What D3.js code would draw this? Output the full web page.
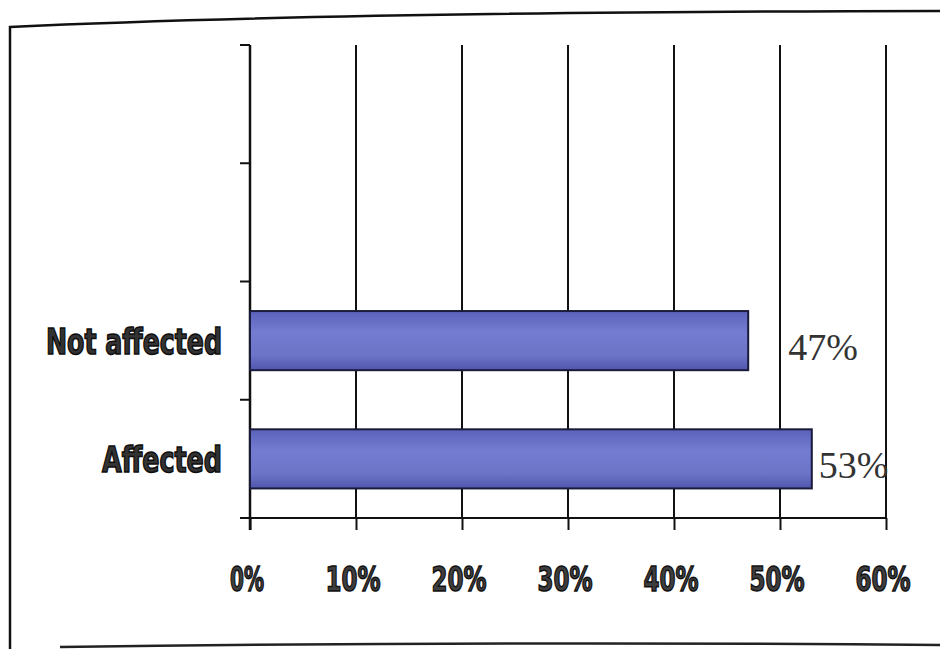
<!DOCTYPE html>
<html>
<head>
<meta charset="utf-8">
<script src="https://cdn.jsdelivr.net/npm/d3@7"></script>
<style>
  html, body { margin: 0; padding: 0; background: #fff; }
  svg { display: block; }
</style>
</head>
<body>
<svg id="chart" width="940" height="651"></svg>
<script>
// Share of respondents by status
const categories = ["Not affected", "Affected"];
const values = [47, 53];
const valueLabels = ["47%", "53%"];
const xTicks = [0, 10, 20, 30, 40, 50, 60];
const xTickLabels = ["0%", "10%", "20%", "30%", "40%", "50%", "60%"];

// Category slots from top to bottom; the two upper slots are left empty
const slots = ["slot0", "slot1", "Not affected", "Affected"];

// Horizontal nudge of each value label past the end of its bar
const labelNudge = { "Not affected": 40, "Affected": 7 };

const svg = d3.select("#chart");
const plot = { left: 250, right: 886, top: 45, bottom: 518 };

// Frame around the figure
svg.append("path")
  .attr("d", "M10,649 L10,27 Q320,12 942,11")
  .attr("fill", "none").attr("stroke", "#111").attr("stroke-width", 2.5);
svg.append("path")
  .attr("d", "M60,647 Q500,641 942,645")
  .attr("fill", "none").attr("stroke", "#222").attr("stroke-width", 2.5);

const x = d3.scaleLinear().domain([0, 60]).range([plot.left, plot.right]);
const y = d3.scaleBand().domain(slots).range([plot.top, plot.bottom]).paddingInner(0.5).paddingOuter(0.25);

// Bar gradient
const defs = svg.append("defs");
const grad = defs.append("linearGradient").attr("id", "barGrad")
  .attr("x1", 0).attr("y1", 0).attr("x2", 0).attr("y2", 1);
grad.append("stop").attr("offset", "0%").attr("stop-color", "#5a62bb");
grad.append("stop").attr("offset", "35%").attr("stop-color", "#737cd0");
grad.append("stop").attr("offset", "75%").attr("stop-color", "#6c74c8");
grad.append("stop").attr("offset", "100%").attr("stop-color", "#4f56ad");

// Vertical gridlines
svg.append("g").selectAll("line")
  .data(xTicks.slice(1))
  .join("line")
  .attr("x1", d => x(d)).attr("x2", d => x(d))
  .attr("y1", plot.top).attr("y2", plot.bottom)
  .attr("stroke", "#111").attr("stroke-width", 2);

// Bottom axis with ticks pointing down
const xAxis = d3.axisBottom(x).tickValues(xTicks).tickSize(12).tickFormat(() => "");
const gx = svg.append("g").attr("transform", `translate(0,${plot.bottom})`).call(xAxis);
gx.select(".domain").attr("d", `M${plot.left - 10},0H${plot.right}`)
  .attr("stroke", "#111").attr("stroke-width", 2);
gx.selectAll(".tick line").attr("stroke", "#111").attr("stroke-width", 2);

// Tick labels
svg.append("g").selectAll("text")
  .data(xTicks)
  .join("text")
  .attr("x", d => x(d) - 3)
  .attr("y", 591)
  .attr("text-anchor", "middle")
  .attr("font-family", "'DejaVu Sans Condensed', 'DejaVu Sans', sans-serif")
  .attr("font-weight", "bold")
  .attr("font-size", 34)
  .attr("fill", "#3e3e3e")
  .attr("stroke", "#111")
  .attr("stroke-width", 1.5)
  .attr("textLength", (d, i) => xTickLabels[i].length === 2 ? 34 : 55)
  .attr("lengthAdjust", "spacingAndGlyphs")
  .text((d, i) => xTickLabels[i]);

// Left axis: slot boundaries as ticks
const boundaries = d3.range(slots.length + 1).map(i => plot.top + i * (plot.bottom - plot.top) / slots.length);
svg.append("line")
  .attr("x1", plot.left).attr("x2", plot.left)
  .attr("y1", plot.top).attr("y2", plot.bottom + 12)
  .attr("stroke", "#111").attr("stroke-width", 2.5);
svg.append("g").selectAll("line")
  .data(boundaries)
  .join("line")
  .attr("x1", plot.left - 10).attr("x2", plot.left)
  .attr("y1", d => d).attr("y2", d => d)
  .attr("stroke", "#111").attr("stroke-width", 2);

// Bars
const rows = categories.map((c, i) => ({ cat: c, value: values[i], label: valueLabels[i] }));
svg.append("g").selectAll("rect")
  .data(rows)
  .join("rect")
  .attr("x", x(0))
  .attr("y", d => y(d.cat))
  .attr("width", d => x(d.value) - x(0))
  .attr("height", y.bandwidth())
  .attr("fill", "url(#barGrad)")
  .attr("stroke", "#1a1a3a")
  .attr("stroke-width", 2);

// Category labels
svg.append("g").selectAll("text")
  .data(rows)
  .join("text")
  .attr("x", 222)
  .attr("y", d => y(d.cat) + y.bandwidth() / 2 + 13)
  .attr("text-anchor", "end")
  .attr("font-family", "'DejaVu Sans Condensed', 'DejaVu Sans', sans-serif")
  .attr("font-weight", "bold")
  .attr("font-size", 35)
  .attr("fill", "#333")
  .attr("stroke", "#0d0d0d")
  .attr("stroke-width", 1.5)
  .attr("textLength", d => d.cat === "Not affected" ? 176 : 120)
  .attr("lengthAdjust", "spacingAndGlyphs")
  .text(d => d.cat);

// Value labels
svg.append("g").selectAll("text")
  .data(rows)
  .join("text")
  .attr("x", d => x(d.value) + labelNudge[d.cat])
  .attr("y", d => y(d.cat) + y.bandwidth() / 2 + 19)
  .attr("font-family", "'Liberation Serif', 'Times New Roman', serif")
  .attr("font-size", 38)
  .attr("fill", "#333")
  .text(d => d.label);
</script>
</body>
</html>
